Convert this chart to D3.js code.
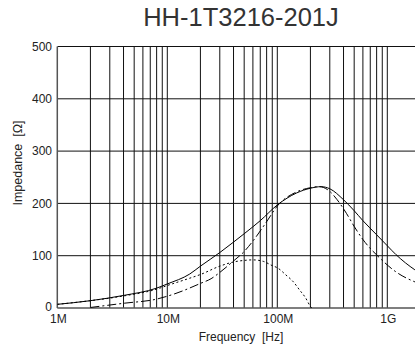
<!DOCTYPE html>
<html>
<head>
<meta charset="utf-8">
<script src="https://cdn.jsdelivr.net/npm/d3@7"></script>
<style>
  html, body { margin: 0; padding: 0; background: #fff; }
  svg { display: block; }
  text { font-family: "Liberation Sans", Arial, sans-serif; fill: #222; white-space: pre; }
</style>
</head>
<body>
<svg id="chart" width="415" height="348"></svg>
<script>
// ---- data (frequency in Hz, impedance in ohm) ----
const title = "HH-1T3216-201J";
const xLabel = "Frequency  [Hz]";
const yLabel = "Impedance  [Ω]";

const zFreq = [1e6, 2e6, 4e6, 8e6, 10e6, 16e6, 20e6, 30e6, 40e6, 50e6, 70e6, 100e6, 150e6, 200e6, 250e6, 300e6, 400e6, 500e6, 600e6, 800e6, 1000e6, 1200e6, 1780e6, 2000e6];
const zVal  = [7, 14, 24, 38, 46, 65, 80, 106, 126, 142, 167, 197, 220, 229, 232, 228, 207, 186, 167, 140, 119, 102, 73, 66];

const rFreq = [2e6, 4e6, 8e6, 12e6, 20e6, 25e6, 30e6, 40e6, 50e6, 60e6, 80e6, 100e6, 150e6, 200e6, 240e6, 300e6, 350e6, 425e6, 500e6, 600e6, 860e6, 1200e6, 1780e6, 2000e6];
const rVal  = [1, 9, 17, 28, 47, 56, 68, 90, 108, 128, 165, 195, 222, 230, 232, 223, 207, 181, 156, 131, 95, 69, 50, 46];

const xFreq = [1e6, 2e6, 4e6, 8e6, 10e6, 16e6, 20e6, 30e6, 40e6, 50e6, 60e6, 75e6, 90e6, 100e6, 120e6, 140e6, 160e6, 180e6, 200e6, 205e6];
const xVal  = [7, 14, 23, 36, 43, 57, 64, 80, 88, 91, 92, 89, 81, 77, 63, 50, 34, 20, 3, 0];

const xTickValues = [1e6, 1e7, 1e8, 1e9];
const xTickLabels = ["1M", "10M", "100M", "1G"];
const yTickValues = [0, 100, 200, 300, 400, 500];

// ---- layout ----
const svg = d3.select("#chart");
const mLeft = 57.3, mTop = 46.5, mBottom = 308, decade = 110;
const xMin = 1e6, xMax = 3e9;
const x = d3.scaleLog().domain([xMin, xMax]).range([mLeft, mLeft + decade * Math.log10(xMax / xMin)]);
const y = d3.scaleLinear().domain([0, 500]).range([mBottom, mTop]);
const mRight = x.range()[1];

svg.append("defs").append("clipPath").attr("id", "plotclip")
  .append("rect").attr("x", mLeft).attr("y", mTop - 1).attr("width", mRight - mLeft).attr("height", mBottom - mTop + 2);

// grid: vertical lines at 1..9 x 10^n
const gridFreqs = [];
for (let e = 6; e <= 9; e++) for (let m = 1; m <= 9; m++) {
  const f = m * Math.pow(10, e);
  if (f > xMin && f <= xMax) gridFreqs.push(f);
}
const grid = svg.append("g").attr("clip-path", "url(#plotclip)");
grid.selectAll("line.v").data(gridFreqs).join("line")
  .attr("class", "v")
  .attr("x1", d => x(d)).attr("x2", d => x(d))
  .attr("y1", mTop).attr("y2", mBottom)
  .attr("stroke", "#111").attr("stroke-width", 1);
grid.selectAll("line.h").data(yTickValues.filter(v => v > 0)).join("line")
  .attr("class", "h")
  .attr("x1", mLeft).attr("x2", mRight)
  .attr("y1", d => y(d)).attr("y2", d => y(d))
  .attr("stroke", "#111").attr("stroke-width", 1);

// axes frame
svg.append("line").attr("x1", mLeft).attr("x2", mLeft).attr("y1", mTop).attr("y2", mBottom)
  .attr("stroke", "#555").attr("stroke-width", 1.5);
svg.append("line").attr("x1", mLeft).attr("x2", mRight).attr("y1", mBottom).attr("y2", mBottom)
  .attr("stroke", "#555").attr("stroke-width", 1.5);

// curves
const curves = svg.append("g").attr("clip-path", "url(#plotclip)");
const line = d3.line().x(d => x(d[0])).y(d => y(d[1])).curve(d3.curveMonotoneX);
function draw(fr, vals, dash) {
  curves.append("path")
    .datum(fr.map((f, i) => [f, vals[i]]))
    .attr("d", line)
    .attr("fill", "none")
    .attr("stroke", "#000")
    .attr("stroke-width", 1)
    .attr("stroke-dasharray", dash);
}
draw(xFreq, xVal, "2,2.5");
draw(rFreq, rVal, "9,3,2,3");
draw(zFreq, zVal, null);

// tick labels
svg.append("g").selectAll("text").data(xTickValues).join("text")
  .attr("x", d => x(d) + 1).attr("y", 323)
  .attr("text-anchor", "middle").attr("font-size", 12)
  .text((d, i) => xTickLabels[i]);
svg.append("g").selectAll("text").data(yTickValues).join("text")
  .attr("x", 52).attr("y", d => y(d) - (d === 0 ? 1 : 0)).attr("dy", "0.36em")
  .attr("text-anchor", "end").attr("font-size", 12)
  .text(d => d);

// titles
svg.append("text").attr("x", 241).attr("y", 26).attr("text-anchor", "middle")
  .attr("font-size", 25.5).style("fill", "#333").text(title);
svg.append("text").attr("x", 241).attr("y", 341).attr("text-anchor", "middle")
  .attr("font-size", 12).text(xLabel);
svg.append("text").attr("transform", "translate(22,163) rotate(-90)")
  .attr("text-anchor", "middle").attr("font-size", 12.5).text(yLabel);
</script>
</body>
</html>
